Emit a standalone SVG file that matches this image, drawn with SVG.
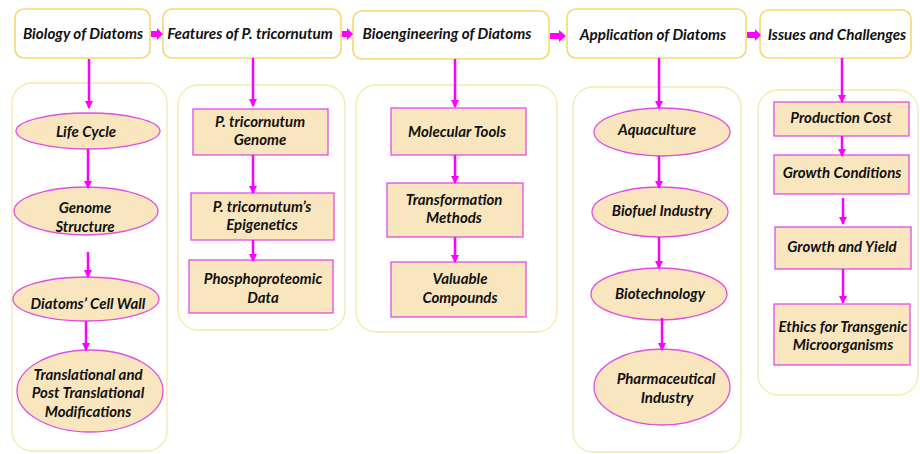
<svg xmlns="http://www.w3.org/2000/svg" width="920" height="454" viewBox="0 0 920 454">
<defs>
<marker id="ah" markerWidth="8" markerHeight="8" refX="7" refY="4" orient="auto" markerUnits="userSpaceOnUse"><path d="M0,0 L8,4 L0,8 Z" fill="#ff00ff"/></marker>
<style>
.hdr{fill:#ffffff;stroke:#f6d86f;stroke-width:1.6}
.cont{fill:#ffffff;stroke:#f4e9ab;stroke-width:1.3}
.nd{fill:#f9e6bf;stroke:#e04ee0;stroke-width:1.3}
.t{font-family:Lato,"Liberation Sans",sans-serif;font-weight:bold;font-style:italic;fill:#111;text-anchor:middle}
.th{font-size:15.2px}
.tn{font-size:15px}
.c{stroke:#ff00ff;stroke-width:2.5;fill:none;marker-end:url(#ah)}
.ba{fill:#ff00ff}
</style>
</defs>
<rect width="920" height="454" fill="#ffffff"/>
<g id="containers">
<rect class="cont" x="12" y="83" width="155" height="368" rx="20"/>
<rect class="cont" x="178" y="85" width="167" height="245" rx="20"/>
<rect class="cont" x="356" y="85" width="201" height="247" rx="20"/>
<rect class="cont" x="573" y="87" width="168" height="365" rx="20"/>
<rect class="cont" x="758" y="90" width="160" height="305" rx="20"/>
</g>
<g id="h1"><rect class="hdr" x="15" y="9" width="135" height="49" rx="9"/><text class="t th" x="83" y="39">Biology of Diatoms</text></g>
<g id="h2"><rect class="hdr" x="163" y="9" width="178" height="49" rx="9"/><text class="t th" x="250" y="39">Features of P. tricornutum</text></g>
<g id="h3"><rect class="hdr" x="353" y="11" width="196" height="48" rx="9"/><text class="t th" x="447" y="39">Bioengineering of Diatoms</text></g>
<g id="h4"><rect class="hdr" x="567" y="9" width="179" height="49" rx="9"/><text class="t th" x="653" y="40">Application of Diatoms</text></g>
<g id="h5"><rect class="hdr" x="760" y="10" width="151" height="48" rx="9"/><text class="t th" x="837" y="40">Issues and Challenges</text></g>
<g id="n1a"><ellipse class="nd" cx="88" cy="131" rx="72" ry="18"/><text class="t tn" x="86" y="137">Life Cycle</text></g>
<g id="n1b"><ellipse class="nd" cx="86" cy="211" rx="72" ry="24"/><text class="t tn" x="85" y="213">Genome</text><text class="t tn" x="85" y="232">Structure</text></g>
<g id="n1c"><ellipse class="nd" cx="86" cy="299" rx="73" ry="22"/><text class="t tn" x="88" y="309">Diatoms’ Cell Wall</text></g>
<g id="n1d"><ellipse class="nd" cx="90" cy="391" rx="73" ry="41"/><text class="t tn" x="88" y="380">Translational and</text><text class="t tn" x="88" y="398">Post Translational</text><text class="t tn" x="88" y="417">Modifications</text></g>
<g id="n2a"><rect class="nd" x="193" y="109" width="135" height="46"/><text class="t tn" x="260" y="127">P. tricornutum</text><text class="t tn" x="260" y="145">Genome</text></g>
<g id="n2b"><rect class="nd" x="191" y="193" width="143" height="47"/><text class="t tn" x="262" y="212">P. tricornutum’s</text><text class="t tn" x="262" y="230">Epigenetics</text></g>
<g id="n2c"><rect class="nd" x="189" y="260" width="144" height="53"/><text class="t tn" x="263" y="284">Phosphoproteomic</text><text class="t tn" x="263" y="303">Data</text></g>
<g id="n3a"><rect class="nd" x="391" y="108" width="135" height="47"/><text class="t tn" x="457" y="137">Molecular Tools</text></g>
<g id="n3b"><rect class="nd" x="387" y="183" width="136" height="54"/><text class="t tn" x="454" y="205">Transformation</text><text class="t tn" x="454" y="223">Methods</text></g>
<g id="n3c"><rect class="nd" x="391" y="262" width="135" height="55"/><text class="t tn" x="460" y="284">Valuable</text><text class="t tn" x="460" y="303">Compounds</text></g>
<g id="n4a"><ellipse class="nd" cx="662" cy="132" rx="68" ry="24"/><text class="t tn" x="657" y="135">Aquaculture</text></g>
<g id="n4b"><ellipse class="nd" cx="660" cy="212" rx="68" ry="25"/><text class="t tn" x="662" y="216">Biofuel Industry</text></g>
<g id="n4c"><ellipse class="nd" cx="659" cy="294" rx="68" ry="26"/><text class="t tn" x="660" y="299">Biotechnology</text></g>
<g id="n4d"><ellipse class="nd" cx="662" cy="387" rx="68" ry="38"/><text class="t tn" x="666" y="384">Pharmaceutical</text><text class="t tn" x="667" y="403">Industry</text></g>
<g id="n5a"><rect class="nd" x="774" y="102" width="135" height="34"/><text class="t tn" x="841" y="123">Production Cost</text></g>
<g id="n5b"><rect class="nd" x="774" y="155" width="135" height="39"/><text class="t tn" x="842" y="178">Growth Conditions</text></g>
<g id="n5c"><rect class="nd" x="775" y="227" width="136" height="42"/><text class="t tn" x="842" y="252">Growth and Yield</text></g>
<g id="n5d"><rect class="nd" x="774" y="304" width="136" height="61"/><text class="t tn" x="843" y="332">Ethics for Transgenic</text><text class="t tn" x="843" y="350">Microorganisms</text></g>
<g id="connectors">
<path class="ba" d="M151,31 L157,31 L157,28 L163,34 L157,40 L157,37 L151,37 Z"/>
<path class="ba" d="M342,31 L347,31 L347,28 L353,34 L347,40 L347,37 L342,37 Z"/>
<path class="ba" d="M550,33 L559,33 L559,30 L566,36 L559,42 L559,39 L550,39 Z"/>
<path class="ba" d="M747,32 L755,32 L755,29 L761,35 L755,41 L755,38 L747,38 Z"/>
<line class="c" x1="89" y1="59" x2="89" y2="108"/>
<line class="c" x1="88" y1="149" x2="88" y2="188"/>
<line class="c" x1="88" y1="252" x2="88" y2="277"/>
<line class="c" x1="86" y1="321" x2="86" y2="350"/>
<line class="c" x1="253" y1="58" x2="253" y2="106"/>
<line class="c" x1="253" y1="155" x2="253" y2="193"/>
<line class="c" x1="253" y1="240" x2="253" y2="261"/>
<line class="c" x1="455" y1="59" x2="455" y2="107"/>
<line class="c" x1="455" y1="155" x2="455" y2="183"/>
<line class="c" x1="455" y1="237" x2="455" y2="262"/>
<line class="c" x1="659" y1="58" x2="659" y2="108"/>
<line class="c" x1="659" y1="156" x2="659" y2="188"/>
<line class="c" x1="659" y1="237" x2="659" y2="268"/>
<line class="c" x1="662" y1="318" x2="662" y2="350"/>
<line class="c" x1="842" y1="58" x2="842" y2="102"/>
<line class="c" x1="842" y1="136" x2="842" y2="156"/>
<line class="c" x1="843" y1="198" x2="843" y2="224"/>
<line class="c" x1="843" y1="269" x2="843" y2="303"/>
</g>
</svg>
